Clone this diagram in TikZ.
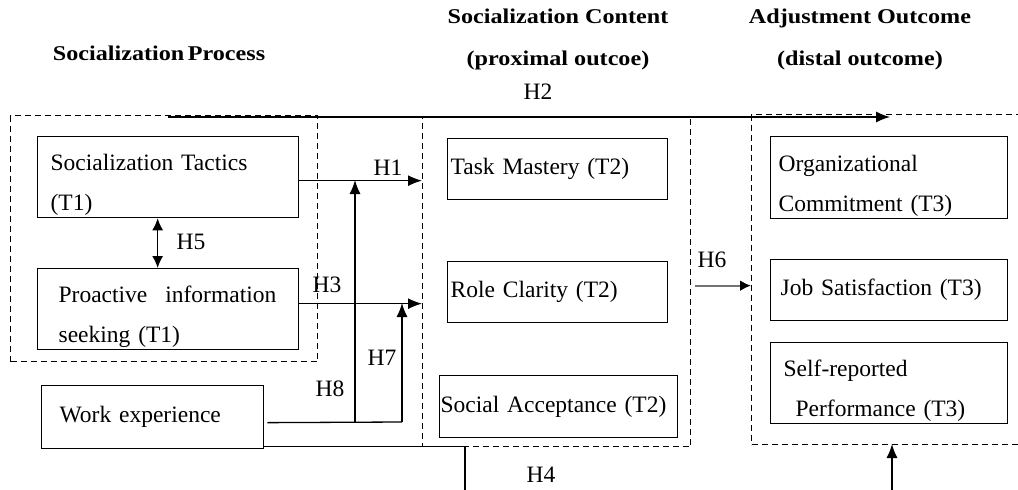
\documentclass[tikz,border=0pt]{standalone}
\usepackage{fontspec}
\setmainfont{Liberation Serif}
\newfontfamily\headfont[FakeStretch=1.15]{Liberation Serif}
\newcommand\bodyfont{\fontsize{23.5}{40}\selectfont}
\usetikzlibrary{arrows.meta,calc}

\begin{document}
\begin{tikzpicture}[
  x=1pt, y=-1pt,
  group/.style={draw, dash pattern=on 6pt off 4pt, line width=1.3pt, anchor=north west, inner sep=0pt},
  box/.style={draw, line width=1.3pt, anchor=north west, align=left, font=\bodyfont, inner ysep=0pt},
  twoline/.style={text height=32pt},
  hyp/.style={font=\bodyfont, inner sep=0pt},
  head/.style={font=\headfont\bfseries\fontsize{21}{42}\selectfont, align=center, inner sep=0pt},
  link/.style={line width=1.3pt},
  arrow/.style={line width=1.3pt, -{Latex[length=14pt,width=11pt]}},
  both/.style={line width=1.3pt, {Latex[length=12pt,width=11pt]}-{Latex[length=12pt,width=11pt]}},
  grayarrow/.style={line width=2.2pt, draw=black!55, -{Latex[length=11pt,width=11pt,color=black]}},
]
%page size
\useasboundingbox (0,0) rectangle (1018,490);

%headings
\node[head] (headprocess) at (159,53) {Socialization\,Process};
\node[head] (headcontent) at (558,39) {Socialization Content\\(proximal outcoe)};
\node[head] (headoutcome) at (860,39) {Adjustment Outcome\\(distal outcome)};

%groups
\node[group, minimum width=307pt, minimum height=246pt] (process) at (10,115) {};
\node[group, minimum width=268pt, minimum height=329pt] (content) at (422,117) {};
\node[group, minimum width=300pt, minimum height=330pt] (outcome) at (751,114) {};

%T1
\node[box, twoline, inner xsep=13pt, text width=235pt, minimum height=81pt] (tactics) at (37,136) {Socialization Tactics\\(T1)};
\node[box, twoline, inner xsep=21pt, text width=219pt, minimum height=81pt] (proactive) at (37,268) {Proactive\hspace{18pt}information\\seeking (T1)};
\node[box, inner xsep=18pt, text width=186pt, minimum height=63pt] (workexp) at (41,385) {Work experience};

%T2
\node[box, inner xsep=3pt, text width=214pt, minimum height=61pt] (task) at (447,138) {Task Mastery (T2)};
\node[box, inner xsep=3pt, text width=214pt, minimum height=61pt] (role) at (447,261) {Role Clarity (T2)};
\node[box, inner xsep=1pt, text width=236pt, minimum height=62pt] (social) at (439,375) {Social Acceptance (T2)};

%T3
\node[box, twoline, inner xsep=8pt, text width=221pt, minimum height=82pt] (commit) at (770,136) {Organizational\\Commitment (T3)};
\node[box, inner xsep=10pt, text width=217pt, minimum height=61pt] (jobsat) at (770,259) {Job Satisfaction (T3)};
\node[box, twoline, inner xsep=13pt, text width=211pt, minimum height=81pt] (perf) at (770,342) {Self-reported\\\hspace*{12pt}Performance (T3)};

%free ends
\coordinate (h2from) at (168,117);
\coordinate (h2to) at (890,117);
\coordinate (h8foot) at (355,422);
\coordinate (h8top) at (355,180);
\coordinate (h7foot) at (402,422);
\coordinate (h7top) at (402,303);
\coordinate (h4low) at (465,505);
\coordinate (h4end) at (892,444);

%hypotheses
\draw[arrow] (h2from) -- (h2to);
\draw[arrow] ($(tactics.east)+(0,3.5)$) -- ($(tactics.east -| content.west)+(0,3.5)$);
\draw[arrow] ($(proactive.east)+(0,-5.5)$) -- ($(proactive.east -| content.west)+(0,-5.5)$);
\draw[both] ($(tactics.south)+(-10.5,0)$) -- ($(proactive.north)+(-10.5,0)$);
\draw[link] ($(workexp.east)+(3,5.5)$) -- (h7foot);
\draw[arrow] (h8foot) -- (h8top);
\draw[arrow] (h7foot) -- (h7top);
\draw[arrow] ($(workexp.south east)+(0,-3)$) -| (h4low) -| (h4end);
\draw[grayarrow] ($(content.east)+(4,3.5)$) -- ($(content.east -| outcome.west)+(0,3.5)$);

%labels
\node[hyp] (lh1) at (388,168) {H1};
\node[hyp] (lh2) at (538,92) {H2};
\node[hyp] (lh3) at (327,285) {H3};
\node[hyp] (lh4) at (541,475) {H4};
\node[hyp] (lh5) at (191,242) {H5};
\node[hyp] (lh6) at (712,260) {H6};
\node[hyp] (lh7) at (382,358) {H7};
\node[hyp] (lh8) at (330,389) {H8};

\end{tikzpicture}
\end{document}
